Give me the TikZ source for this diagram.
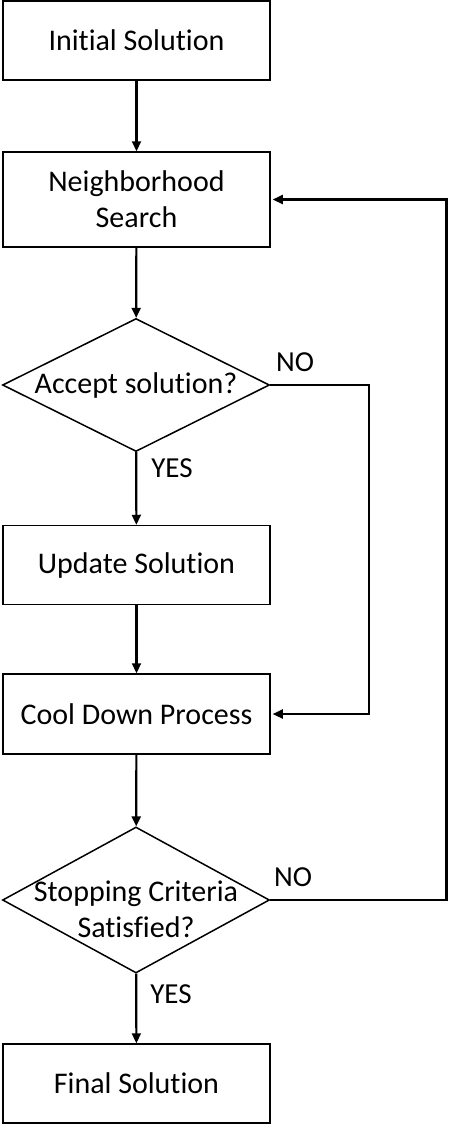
\documentclass[tikz,border=0pt]{standalone}
\usepackage{fontspec}
\setmainfont{Carlito}[Ligatures=NoCommon]
\usetikzlibrary{shapes.geometric,arrows.meta}

\tikzset{
    stepbox/.style={draw, line width=1.5pt, rectangle, minimum width=267pt,
        inner sep=0pt, align=center, font=\fontsize{30}{36}\selectfont},
    decision/.style={draw, line width=1.5pt, diamond, minimum width=267pt,
        inner sep=0pt, font=\fontsize{30}{36}\selectfont},
    flow/.style={line width=2.2pt, -{Triangle[length=10pt,width=9pt]}},
    answer/.style={font=\fontsize{29}{34}\selectfont, inner sep=0pt}
}

\begin{document}
\begin{tikzpicture}[x=1pt, y=-1pt]
    \useasboundingbox (0,0) rectangle (449,1125);
    % Draw steps and decisions
    \node[stepbox, minimum height=79pt] (init) at (136.5,40.5) {Initial Solution};
    \node[stepbox, minimum height=95pt] (nbr) at (136.5,199.5) {Neighborhood\\Search};
    \node[decision, minimum height=133pt,
        label={[font=\fontsize{30}{36}\selectfont]center:Accept solution?}] (accept) at (136,385) {};
    \node[stepbox, minimum height=79pt] (update) at (136.5,565) {Update Solution};
    \node[stepbox, minimum height=80pt] (cool) at (136.5,714) {Cool Down Process};
    \node[decision, minimum height=146pt,
        label={[align=center, yshift=-9pt, font=\fontsize{30}{36}\selectfont]center:{Stopping Criteria\\Satisfied?}}] (stop) at (136,900) {};
    \node[stepbox, minimum height=79pt] (final) at (136.5,1083.5) {Final Solution};
    % Draw main flow
    \foreach \a/\b in {init/nbr, nbr/accept, accept/update, update/cool, cool/stop, stop/final} {
        \draw[flow] (\a) -- (\b);
    }
    % Draw loops back
    \coordinate (acceptturn) at (369,385);
    \coordinate (stopturn) at (446.5,900);
    \draw[flow, shorten >=2pt] (accept.east) -- (acceptturn) |- (cool.east);
    \draw[flow, shorten >=2pt] (stop.east) -- (stopturn) |- (nbr.east);
    % Draw answers
    \node[answer] (acceptno) at (295,362) {NO};
    \node[answer] (acceptyes) at (172,468) {YES};
    \node[answer] (stopno) at (293,877) {NO};
    \node[answer] (stopyes) at (171,994) {YES};
\end{tikzpicture}
\end{document}
